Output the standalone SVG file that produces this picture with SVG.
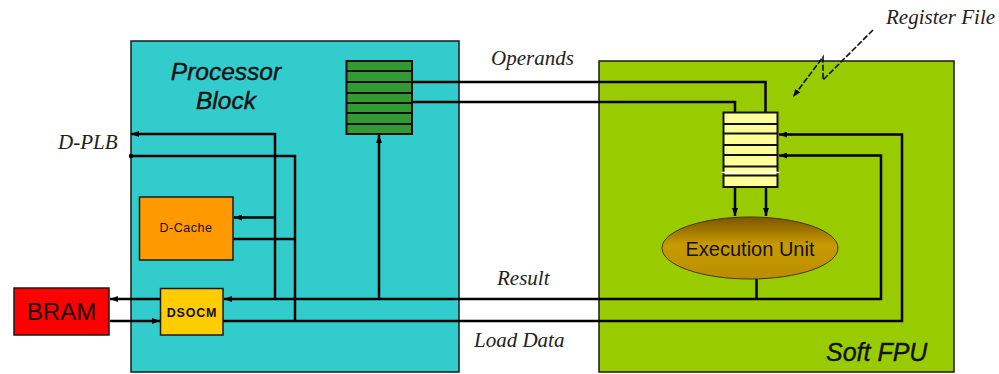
<svg xmlns="http://www.w3.org/2000/svg" width="999" height="374" viewBox="0 0 999 374">
  <style>
    .box { stroke: #1a1a1a; stroke-width: 1.5; }
    .wire { fill: none; stroke: #000; stroke-width: 2.5; stroke-linejoin: miter; }
    .arr { marker-end: url(#head); }
    .row { stroke: #111; stroke-width: 2; }
    .title { font-family: "Liberation Sans", Arial, sans-serif; font-style: italic; fill: #111; }
    .lbl { font-family: "Liberation Serif", "Times New Roman", serif; font-style: italic; font-size: 21px; fill: #222; }
    .sans { font-family: "Liberation Sans", Arial, sans-serif; fill: #111; text-anchor: middle; }
  </style>
  <defs>
    <marker id="head" viewBox="0 0 8 6" refX="8" refY="3" markerWidth="8" markerHeight="6" markerUnits="userSpaceOnUse" orient="auto">
      <path d="M0,0 L8,3 L0,6 z" fill="#000"/>
    </marker>
    <linearGradient id="eu" x1="0" y1="0" x2="0" y2="1">
      <stop offset="0" stop-color="#7a5600"/>
      <stop offset="0.45" stop-color="#c99a00"/>
      <stop offset="1" stop-color="#b98d00"/>
    </linearGradient>
  </defs>

  <rect width="999" height="374" fill="#fff"/>

  <!-- containers -->
  <g id="processor-block">
    <rect class="box" x="131" y="41" width="328" height="331" fill="#33cccc"/>
    <text class="title" x="226" y="80" font-size="24.5" text-anchor="middle" stroke="#111" stroke-width="0.4">Processor</text>
    <text class="title" x="226" y="108.5" font-size="24.5" text-anchor="middle" stroke="#111" stroke-width="0.4">Block</text>
  </g>
  <g id="soft-fpu">
    <rect class="box" x="599" y="61" width="355" height="311" fill="#99cc00"/>
    <text class="title" x="826" y="361" font-size="25" stroke="#111" stroke-width="0.4">Soft FPU</text>
  </g>

  <!-- connectors -->
  <g id="connectors">
    <!-- operands: processor registers to FPU register file -->
    <path class="wire" d="M412,82 H765.5 V112"/>
    <path class="wire" d="M412,102 H735 V112"/>
    <!-- register file to execution unit -->
    <path class="wire arr" d="M735,187 V216"/>
    <path class="wire arr" d="M766,187 V216"/>
    <!-- result bus -->
    <path class="wire" d="M756.5,279 V299"/>
    <path class="wire arr" d="M756.5,299 H224"/>
    <path class="wire arr" d="M756.5,299 H881 V155.5 H779"/>
    <path class="wire arr" d="M379,299 V135"/>
    <!-- load data bus -->
    <path class="wire arr" d="M223,321 H902 V134.5 H779"/>
    <!-- D-PLB -->
    <path class="wire arr" d="M275,299 V134 H131"/>
    <path class="wire arr" d="M275,217.5 H234"/>
    <path class="wire" d="M131,156 H295 V321"/>
    <path class="wire" d="M233,239 H295"/>
    <circle cx="131" cy="156" r="2.2" fill="#000"/>
    <!-- BRAM link -->
    <path class="wire arr" d="M160,299 H110"/>
    <path class="wire arr" d="M110,321 H160"/>
    <!-- register file pointer -->
    <path d="M873,30 L823,80 V57 L793,97" fill="none" stroke="#111" stroke-width="1.6" stroke-dasharray="6,2" marker-end="url(#head)"/>
  </g>

  <!-- nodes -->
  <g id="cpu-registers">
    <rect x="346.5" y="61" width="65.5" height="73" fill="#339933" stroke="#111" stroke-width="2"/>
    <line class="row" x1="346.5" y1="71" x2="412" y2="71"/>
    <line class="row" x1="346.5" y1="82" x2="412" y2="82"/>
    <line class="row" x1="346.5" y1="93" x2="412" y2="93"/>
    <line class="row" x1="346.5" y1="103" x2="412" y2="103"/>
    <line class="row" x1="346.5" y1="113" x2="412" y2="113"/>
    <line class="row" x1="346.5" y1="124" x2="412" y2="124"/>
  </g>
  <g id="register-file">
    <rect x="723.5" y="112.5" width="54" height="74.5" fill="#ffff99" stroke="#111" stroke-width="2"/>
    <line class="row" x1="723.5" y1="124" x2="777.5" y2="124"/>
    <line class="row" x1="723.5" y1="133.5" x2="777.5" y2="133.5"/>
    <line class="row" x1="723.5" y1="145" x2="777.5" y2="145"/>
    <line class="row" x1="723.5" y1="155" x2="777.5" y2="155"/>
    <line class="row" x1="723.5" y1="166.5" x2="777.5" y2="166.5"/>
    <line x1="721.5" y1="172.5" x2="779.5" y2="172.5" stroke="#fff" stroke-width="1.6"/>
    <line class="row" x1="723.5" y1="175.5" x2="777.5" y2="175.5"/>
  </g>
  <g id="execution-unit">
    <ellipse cx="750" cy="248" rx="88" ry="31" fill="url(#eu)" stroke="#4a3500" stroke-width="1"/>
    <text class="sans" x="750" y="255.5" font-size="20">Execution Unit</text>
  </g>
  <g id="d-cache">
    <rect class="box" x="139.5" y="197" width="93.5" height="63" fill="#ff9900"/>
    <text class="sans" x="186" y="232" font-size="12.5" letter-spacing="0.5">D-Cache</text>
  </g>
  <g id="dsocm">
    <rect class="box" x="160.5" y="288.5" width="62.5" height="46.5" fill="#ffcc00"/>
    <text class="sans" x="192" y="316.5" font-size="12.5" font-weight="bold" letter-spacing="0.8">DSOCM</text>
  </g>
  <g id="bram">
    <rect class="box" x="14" y="288" width="95" height="47" fill="#ff0000"/>
    <text class="sans" x="61.5" y="320" font-size="24">BRAM</text>
  </g>

  <!-- labels -->
  <g id="labels">
    <text class="lbl" x="491" y="65">Operands</text>
    <text class="lbl" x="886" y="24">Register File</text>
    <text class="lbl" x="497" y="285">Result</text>
    <text class="lbl" x="474" y="347">Load Data</text>
    <text class="lbl" x="58" y="149">D-PLB</text>
  </g>
</svg>
